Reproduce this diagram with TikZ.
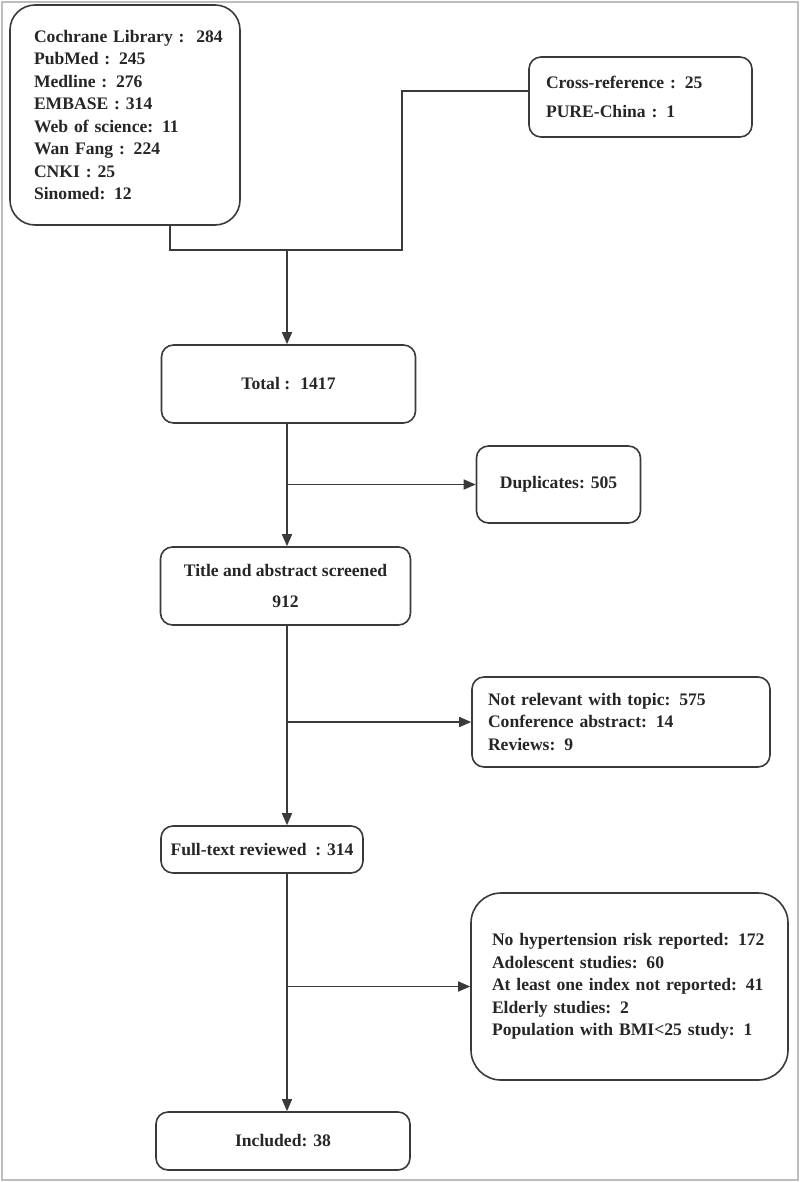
\documentclass[tikz,border=0pt]{standalone}
\usepackage{fontspec}
\setmainfont{Liberation Serif}
\usetikzlibrary{arrows.meta}
\definecolor{linegray}{HTML}{3A3A3A}
\definecolor{textgray}{HTML}{262626}
\definecolor{framegray}{HTML}{BDBDBD}

\begin{document}
\begin{tikzpicture}[x=1pt,y=-1pt,
  box/.style={draw=linegray,line width=1.6pt,rounded corners=12pt,text=textgray,
    font=\bfseries\fontsize{17.6}{22.5}\selectfont,inner sep=0pt,align=center},
  list/.style={box,align=left},
  link/.style={draw=linegray,line width=1.6pt},
  arr/.style={link,-{Triangle[length=12pt,width=10pt]}}]
\useasboundingbox (0,0) rectangle (800,1182);
\draw[framegray,line width=1.5pt] (2,2) rectangle (798,1180);

% sources
\node[list,rounded corners=25pt,text width=182pt,inner xsep=24pt,minimum height=220pt] (src) at (125,115)
  {\mbox{Cochrane Library :~~284}\\PubMed : 245\\Medline : 276\\EMBASE : 314\\Web of science: 11\\Wan Fang : 224\\CNKI : 25\\Sinomed: 12};
\node[list,text width=189pt,inner xsep=17pt,minimum height=80pt,font=\bfseries\fontsize{17.6}{29}\selectfont] (cross) at (640.5,97)
  {Cross-reference : 25\\PURE-China : 1};

% main flow
\node[box,minimum width=254pt,minimum height=78pt] (total) at (288.5,384) {Total :~ 1417};
\node[box,minimum width=164pt,minimum height=77pt] (dup) at (558.5,484.5) {Duplicates: 505};
\node[box,minimum width=250pt,minimum height=78pt,font=\bfseries\fontsize{17.6}{31}\selectfont] (title) at (285.5,586)
  {Title and abstract screened\\912};
\node[list,text width=266pt,inner xsep=16pt,minimum height=90pt] (notrel) at (621,722)
  {Not relevant with topic: 575\\Conference abstract: 14\\Reviews: 9};
\node[box,minimum width=202pt,minimum height=47pt] (full) at (262,849.5) {Full-text reviewed~~: 314};
\node[list,rounded corners=30pt,text width=275pt,inner xsep=21pt,minimum height=187pt] (excl) at (629.5,986.5)
  {No hypertension risk reported: 172\\Adolescent studies: 60\\At least one index not reported: 41\\Elderly studies: 2\\Population with BMI<25 study: 1};
\node[box,minimum width=254pt,minimum height=58pt] (incl) at (283,1141) {Included: 38};

% connectors
\coordinate (join) at (287,250);
\coordinate (turn) at (402,250);
\draw[link] ([xshift=45pt]src.south) |- (join) -- (turn) |- ([yshift=6pt]cross.west);
\draw[arr] (join) -- (join |- total.north);
\draw[arr] (join |- total.south) -- (join |- title.north);
\draw[arr] (join |- dup.west) -- (dup.west);
\draw[arr] (join |- title.south) -- (join |- full.north);
\draw[arr] (join |- notrel.west) -- (notrel.west);
\draw[arr] (join |- full.south) -- (join |- incl.north);
\draw[arr] (join |- excl.west) -- (excl.west);
\end{tikzpicture}
\end{document}
